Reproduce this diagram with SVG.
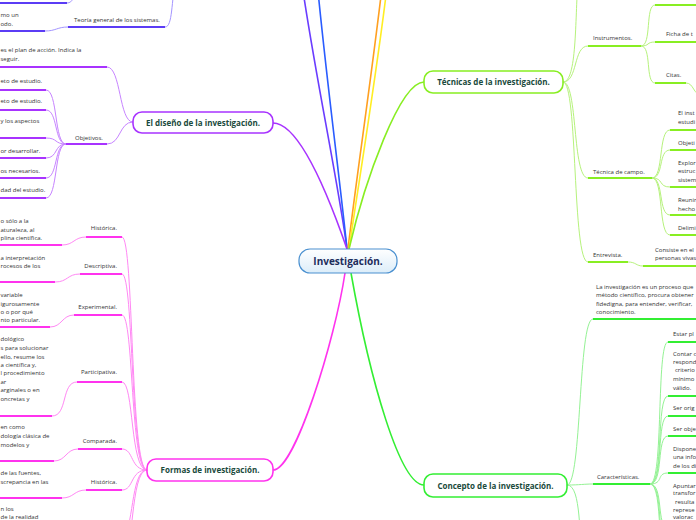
<svg xmlns="http://www.w3.org/2000/svg" width="696" height="520" viewBox="0 0 696 520">
<defs>
<linearGradient id="cg" x1="0" y1="0" x2="0" y2="1"><stop offset="0" stop-color="#ffffff"/><stop offset="1" stop-color="#dcedf9"/></linearGradient>
</defs>
<style>
.c{fill:none;stroke-width:1}
.m{fill:none;stroke-width:1.6}
.u{fill:none;stroke-width:2}
.t{font-family:"Open Sans","Liberation Sans",sans-serif;font-size:6px;fill:#333}
.e{text-anchor:end}
.h{font-family:"Open Sans","Liberation Sans",sans-serif;font-size:8px;font-weight:700;fill:#1a4a3c;text-anchor:middle}
.nd{fill:#fff;stroke-width:1.6}
.vi{stroke:#a833ff}.vil{stroke:#c784ff}
.mg{stroke:#ff33ee}.mgl{stroke:#ff88f4}
.lg{stroke:#88ee22}.lgl{stroke:#b6f27c}
.gr{stroke:#33ee33}.grl{stroke:#94f294}
.in{stroke:#5b3cf5}.inl{stroke:#a394ff}
</style>
<g id="connectors">
<path class="m" stroke="#6a3cff" d="M300,-30 C312,60 338,180 347,249"/>
<path class="m" stroke="#2a5cff" d="M316,-30 C324,60 340,180 347,249"/>
<path class="m" stroke="#ffa020" d="M384,-30 C374,60 356,180 348,249"/>
<path class="m" stroke="#ffee22" d="M389,-30 C379,60 359,180 349,249"/>
<path class="m vi" d="M273,123 C300,123 330,200 347,249"/>
<path class="m lg" d="M424,82 C400,82 365,180 349,249"/>
<path class="m mg" d="M273,470 C295,470 335,340 345,273"/>
<path class="m gr" d="M424,485 C400,485 370,380 351,273"/>
<path class="c inl" d="M67,3 C73,3 74,-4 78,-14"/>
<path class="c inl" d="M45,31 C56,31 57,27 68,27"/>
<path class="c inl" d="M165,27 C173,27 171,0 176,-20"/>
<path class="c vil" d="M107,67 C121,67 119,122 133,122"/>
<path class="c vil" d="M107,144 C121,144 119,122 133,122"/>
<path class="c vil" d="M46,90 C58,90 54,144 66,144"/>
<path class="c vil" d="M46,110 C58,110 54,144 66,144"/>
<path class="c vil" d="M46,138 C58,138 54,144 66,144"/>
<path class="c vil" d="M46,158 C58,158 54,144 66,144"/>
<path class="c vil" d="M46,178 C58,178 54,144 66,144"/>
<path class="c vil" d="M46,198 C58,198 54,144 66,144"/>
<path class="c mgl" d="M147,470 C130,470 134,237 122,237"/>
<path class="c mgl" d="M147,470 C130,470 134,274 122,274"/>
<path class="c mgl" d="M147,470 C130,470 134,315 122,315"/>
<path class="c mgl" d="M147,470 C130,470 134,382 122,382"/>
<path class="c mgl" d="M147,470 C130,470 134,449 122,449"/>
<path class="c mgl" d="M147,470 C130,470 134,490 122,490"/>
<path class="c mgl" d="M147,470 C130,470 134,535 122,535"/>
<path class="c mgl" d="M147,470 C130,470 134,560 122,560"/>
<path class="c mgl" d="M62,245 C74,245 74,237 86,237"/>
<path class="c mgl" d="M55,282 C68,282 67,274 80,274"/>
<path class="c mgl" d="M50,327 C62,327 62,315 74,315"/>
<path class="c mgl" d="M52,416 C68,416 61,382 77,382"/>
<path class="c mgl" d="M54,461 C66,461 66,449 78,449"/>
<path class="c mgl" d="M62,498 C74,498 74,490 86,490"/>
<path class="c lgl" d="M563,82 C577,82 575,20 578,-20"/>
<path class="c lgl" d="M563,82 C578,82 573,46 588,46"/>
<path class="c lgl" d="M563,82 C578,82 572,178 588,178"/>
<path class="c lgl" d="M563,82 C578,82 572,262 588,262"/>
<path class="c lgl" d="M641,46 C652,46 645,5 655,5"/>
<path class="c lgl" d="M641,46 C650,46 646,42 655,42"/>
<path class="c lgl" d="M641,46 C652,46 645,83 655,83"/>
<path class="c lgl" d="M686,83 C694,83 693,95 702,95"/>
<path class="c lgl" d="M652,178 C664,178 658,130 670,130"/>
<path class="c lgl" d="M652,178 C664,178 658,150 670,150"/>
<path class="c lgl" d="M652,178 C664,178 658,187 670,187"/>
<path class="c lgl" d="M652,178 C664,178 658,215 670,215"/>
<path class="c lgl" d="M652,178 C664,178 658,235 670,235"/>
<path class="c lgl" d="M628,262 C636,262 636,266 643,266"/>
<path class="c grl" d="M567,485 C582,485 578,319 593,319"/>
<path class="c grl" d="M567,485 C580,485 584,484 593,484"/>
<path class="c grl" d="M567,485 C582,485 578,540 584,560"/>
<path class="c grl" d="M650,484 C664,484 656,342 668,342"/>
<path class="c grl" d="M650,484 C664,484 656,396 668,396"/>
<path class="c grl" d="M650,484 C664,484 656,416 668,416"/>
<path class="c grl" d="M650,484 C664,484 656,436 668,436"/>
<path class="c grl" d="M650,484 C664,484 656,473 668,473"/>
<path class="c grl" d="M650,484 C664,484 656,528 668,528"/>
<path class="c grl" d="M650,484 C664,484 656,548 668,548"/>
<path class="c grl" d="M650,484 C664,484 656,570 668,570"/>
</g>
<g id="teoria">
<path class="u in" d="M0,3 H67 M0,31 H45 M68,27 H165"/>
<text class="t" x="0.5" y="17">mo un</text>
<text class="t" x="0.5" y="26">odo.</text>
<text class="t" x="74" y="22">Teoría general de los sistemas.</text>
</g>
<g id="diseno">
<rect class="nd vi" x="133" y="112" width="140" height="21" rx="9"/>
<text class="h" x="203" y="125.5">El diseño de la investigación.</text>
<path class="u vi" d="M0,67 H107 M66,144 H107 M0,90 H46 M0,110 H46 M0,138 H46 M0,158 H46 M0,178 H46 M0,198 H46"/>
<text class="t" x="0.5" y="52">es el plan de acción. Indica la</text>
<text class="t" x="0.5" y="61">seguir.</text>
<text class="t" x="75" y="139.5">Objetivos.</text>
<text class="t" x="0.5" y="83">eto de estudio.</text>
<text class="t" x="0.5" y="103">eto de estudio.</text>
<text class="t" x="0.5" y="123">y los aspectos</text>
<text class="t" x="0.5" y="153">or desarrollar.</text>
<text class="t" x="0.5" y="173">os necesarios.</text>
<text class="t" x="0.5" y="192">dad del estudio.</text>
</g>
<g id="formas">
<rect class="nd mg" x="147" y="459" width="126" height="22" rx="9"/>
<text class="h" x="210" y="473">Formas de investigación.</text>
<path class="u mg" d="M86,237 H122 M80,274 H122 M74,315 H122 M77,382 H122 M78,449 H122 M86,490 H122 M0,245 H62 M0,282 H55 M0,327 H50 M0,416 H52 M0,461 H54 M0,498 H62"/>
<text class="t e" x="117" y="230">Histórica.</text>
<text class="t e" x="117" y="268">Descriptiva.</text>
<text class="t e" x="117" y="309">Experimental.</text>
<text class="t e" x="117" y="374">Participativa.</text>
<text class="t e" x="117" y="443">Comparada.</text>
<text class="t e" x="117" y="484">Histórica.</text>
<text class="t" x="0.5" y="223">o sólo a la</text>
<text class="t" x="0.5" y="232">aturaleza, al</text>
<text class="t" x="0.5" y="240">plina científica.</text>
<text class="t" x="0.5" y="260">a interpretación</text>
<text class="t" x="0.5" y="268">rocesos de los</text>
<text class="t" x="0.5" y="297">variable</text>
<text class="t" x="0.5" y="306">igurosamente</text>
<text class="t" x="0.5" y="314">o o por qué</text>
<text class="t" x="0.5" y="322">nto particular.</text>
<text class="t" x="0.5" y="341">dológico</text>
<text class="t" x="0.5" y="350">s para solucionar</text>
<text class="t" x="0.5" y="359">ello, resume los</text>
<text class="t" x="0.5" y="367">a científica y,</text>
<text class="t" x="0.5" y="375">l procedimiento</text>
<text class="t" x="0.5" y="384">ar</text>
<text class="t" x="0.5" y="392">arginales o en</text>
<text class="t" x="0.5" y="401">oncretas y</text>
<text class="t" x="0.5" y="429">en como</text>
<text class="t" x="0.5" y="438">dología clásica de</text>
<text class="t" x="0.5" y="447">modelos y</text>
<text class="t" x="0.5" y="475">de las fuentes,</text>
<text class="t" x="0.5" y="484">screpancia en las</text>
<text class="t" x="0.5" y="511">n los</text>
<text class="t" x="0.5" y="519">de la realidad</text>
</g>
<g id="tecnicas">
<rect class="nd lg" x="424" y="71" width="139" height="22" rx="9"/>
<text class="h" x="493.5" y="85">Técnicas de la investigación.</text>
<path class="u lg" d="M588,46 H641 M655,5 H700 M655,42 H700 M655,83 H686 M588,178 H652 M670,130 H700 M670,150 H700 M670,187 H700 M670,215 H700 M670,235 H700 M588,262 H628 M643,266 H700"/>
<text class="t" x="593" y="40">Instrumentos.</text>
<text class="t" x="666" y="36">Ficha de t</text>
<text class="t" x="666" y="77">Citas.</text>
<text class="t" x="593" y="174">Técnica de campo.</text>
<text class="t" x="678" y="115">El inst</text>
<text class="t" x="678" y="124">estudi</text>
<text class="t" x="678" y="145">Objeti</text>
<text class="t" x="678" y="165">Explor</text>
<text class="t" x="678" y="173">estruc</text>
<text class="t" x="678" y="182">sistem</text>
<text class="t" x="678" y="202">Reunir</text>
<text class="t" x="678" y="211">hecho</text>
<text class="t" x="678" y="230">Delimi</text>
<text class="t" x="593" y="257">Entrevista.</text>
<text class="t" x="655" y="252">Consiste en el</text>
<text class="t" x="655" y="260">personas vivas</text>
</g>
<g id="concepto">
<rect class="nd gr" x="424" y="474" width="143" height="23" rx="9"/>
<text class="h" x="495.5" y="488.5">Concepto de la investigación.</text>
<path class="u gr" d="M593,319 H700 M593,484 H650 M668,342 H700 M668,396 H700 M668,416 H700 M668,436 H700 M668,473 H700"/>
<text class="t" x="596" y="289">La investigación es un proceso que</text>
<text class="t" x="596" y="297">método científico, procura obtener</text>
<text class="t" x="596" y="306">fidedigna, para entender, verificar,</text>
<text class="t" x="596" y="314">conocimiento.</text>
<text class="t" x="597" y="479">Características.</text>
<text class="t" x="673" y="336">Estar pl</text>
<text class="t" x="673" y="356">Contar c</text>
<text class="t" x="673" y="364">respond</text>
<text class="t" x="675" y="372">criterio</text>
<text class="t" x="673" y="381">mínimo</text>
<text class="t" x="673" y="390">válido.</text>
<text class="t" x="673" y="410">Ser orig</text>
<text class="t" x="673" y="431">Ser obje</text>
<text class="t" x="673" y="451">Dispone</text>
<text class="t" x="673" y="459">una info</text>
<text class="t" x="673" y="468">de los di</text>
<text class="t" x="673" y="488">Apuntar</text>
<text class="t" x="673" y="495">transfor</text>
<text class="t" x="675" y="504">resulta</text>
<text class="t" x="673" y="512">represe</text>
<text class="t" x="673" y="519">valorac</text>
</g>
<g id="center">
<rect x="299" y="249" width="98" height="24" rx="11" fill="url(#cg)" stroke="#4a90d0" stroke-width="1.2"/>
<text x="348" y="264.5" text-anchor="middle" font-family="'Open Sans','Liberation Sans',sans-serif" font-size="10" font-weight="700" fill="#1c2d5c">Investigación.</text>
</g>
</svg>
